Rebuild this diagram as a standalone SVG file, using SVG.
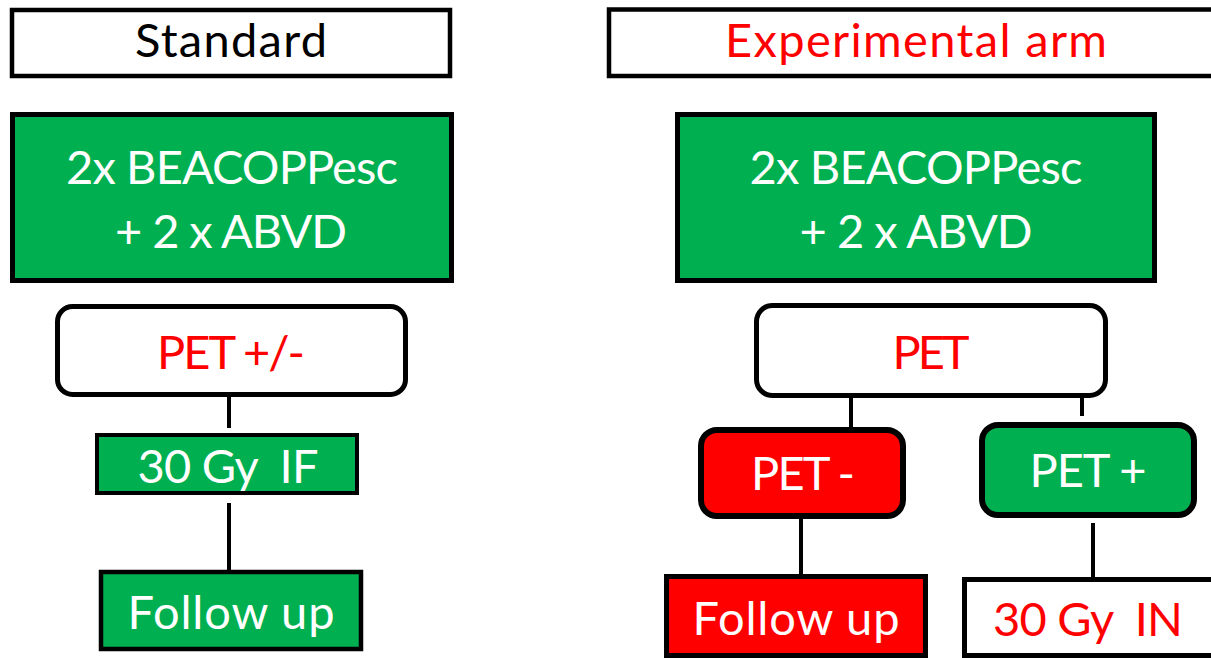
<svg xmlns="http://www.w3.org/2000/svg" width="1211" height="658" viewBox="0 0 1211 658">
  <style>
    .box { stroke: #000; stroke-width: 5; }
    .white { fill: #FFFFFF; }
    .green { fill: #00B050; }
    .red { fill: #FF0000; }
    .t { font-family: Lato, "Open Sans", "Liberation Sans", sans-serif; font-size: 47px; text-anchor: middle; }
    .tw { fill: #FFFFFF; }
    .tr { fill: #FF0000; }
    .tk { fill: #000000; }
    .link { stroke: #000; stroke-width: 4; fill: none; }
  </style>

  <rect width="1211" height="658" fill="#FFFFFF"/>

  <!-- connectors -->
  <g id="connectors">
    <line class="link" x1="229" y1="396" x2="229" y2="428"/>
    <line class="link" x1="229" y1="503" x2="229" y2="571"/>
    <line class="link" x1="851" y1="397" x2="851" y2="428"/>
    <line class="link" x1="1082" y1="397" x2="1082" y2="416"/>
    <line class="link" x1="801" y1="518" x2="801" y2="575"/>
    <line class="link" x1="1093" y1="523" x2="1093" y2="578"/>
  </g>

  <!-- standard arm -->
  <g id="standard-header">
    <rect class="box white" x="12" y="10" width="438" height="66" style="stroke-width:4.5"/>
    <text class="t tk" x="231" y="57" textLength="192">Standard</text>
  </g>
  <g id="standard-chemo">
    <rect class="box green" x="12.5" y="114.5" width="439" height="166"/>
    <text class="t tw" x="232" y="184" textLength="332">2x BEACOPPesc</text>
    <text class="t tw" x="231" y="248" textLength="232">+ 2 x ABVD</text>
  </g>
  <g id="standard-pet">
    <rect class="box white" x="57.5" y="306.5" width="348" height="88" rx="15"/>
    <text class="t tr" x="231" y="369" textLength="148">PET +/-</text>
  </g>
  <g id="standard-rt">
    <rect class="box green" x="97" y="435" width="260" height="58" style="stroke-width:4"/>
    <text class="t tw" x="228" y="483" textLength="181" xml:space="preserve">30 Gy  IF</text>
  </g>
  <g id="standard-followup">
    <rect class="box green" x="101" y="572" width="260" height="77" style="stroke-width:4.5"/>
    <text class="t tw" x="231" y="629" textLength="207">Follow up</text>
  </g>

  <!-- experimental arm -->
  <g id="experimental-header">
    <rect class="box white" x="609" y="9.5" width="640" height="66.5" style="stroke-width:4.5"/>
    <text class="t tr" x="916" y="57" textLength="382">Experimental arm</text>
  </g>
  <g id="experimental-chemo">
    <rect class="box green" x="677.5" y="114.5" width="477" height="166"/>
    <text class="t tw" x="916" y="184" textLength="333">2x BEACOPPesc</text>
    <text class="t tw" x="916" y="248" textLength="233">+ 2 x ABVD</text>
  </g>
  <g id="experimental-pet">
    <rect class="box white" x="756.5" y="305.5" width="349" height="90" rx="16"/>
    <text class="t tr" x="931" y="369" textLength="77">PET</text>
  </g>
  <g id="pet-negative">
    <rect class="box red" x="701" y="430" width="202" height="86" rx="16" style="stroke-width:6"/>
    <text class="t tw" x="803" y="490" textLength="104">PET -</text>
  </g>
  <g id="pet-positive">
    <rect class="box green" x="982" y="425" width="212" height="90" rx="16" style="stroke-width:6"/>
    <text class="t tw" x="1088" y="487" textLength="117">PET +</text>
  </g>
  <g id="experimental-followup">
    <rect class="box red" x="666.5" y="576.5" width="259" height="79"/>
    <text class="t tw" x="796" y="635" textLength="207">Follow up</text>
  </g>
  <g id="experimental-rt">
    <rect class="box white" x="964.5" y="579.5" width="260" height="76"/>
    <text class="t tr" x="1088" y="636" textLength="190" xml:space="preserve">30 Gy  IN</text>
  </g>
</svg>
